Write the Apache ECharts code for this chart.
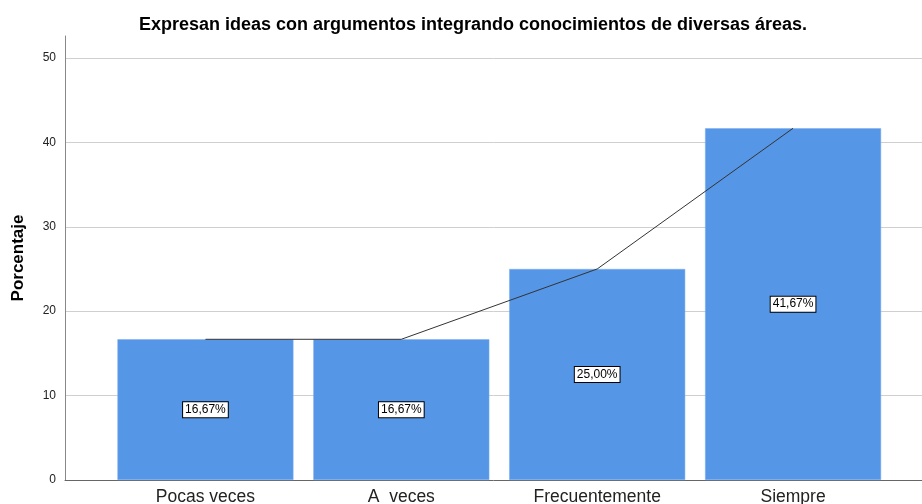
<!DOCTYPE html>
<html><head><meta charset="utf-8">
<script src="https://cdn.jsdelivr.net/npm/echarts@6/dist/echarts.min.js"></script>
<style>html,body{margin:0;padding:0;background:#fff}#c{width:922px;height:504px}</style>
</head><body><div id="c"></div>
<script>
const categories = ['Pocas veces', 'A  veces', 'Frecuentemente', 'Siempre'];
const percentages = [16.67, 16.67, 25.00, 41.67];
const yTicks = [0, 10, 20, 30, 40, 50];
const titleText = 'Expresan ideas con argumentos integrando conocimientos de diversas áreas.';
const yName = 'Porcentaje';

const FONT = '"Liberation Sans", Arial, sans-serif';
const YMAX = 52.6;
const chart = echarts.init(document.getElementById('c'));
chart.setOption({
  animation: false,
  title: { text: titleText, left: 468, textAlign: 'center', top: 11,
    textStyle: { fontFamily: FONT, fontSize: 18, fontWeight: 'bold', color: '#000' } },
  grid: [
    { left: 65, right: 0, top: 36, bottom: 24, outerBoundsMode: 'none', containLabel: false },
    { left: 107.5, right: 31, top: 36, bottom: 24, outerBoundsMode: 'none', containLabel: false }
  ],
  xAxis: [
    { gridIndex: 0, type: 'value', min: 0, max: 1, axisLine: { show: true, onZero: false, lineStyle: { color: '#666', width: 1 } },
      axisTick: { show: false }, axisLabel: { show: false }, splitLine: { show: false } },
    { gridIndex: 1, type: 'category', data: categories, axisLine: { show: false }, axisTick: { show: false },
      axisLabel: { fontFamily: FONT, fontSize: 17.5, color: '#222', margin: 8 } }
  ],
  yAxis: [
    { gridIndex: 0, type: 'value', min: 0, max: YMAX, interval: 10, name: yName, nameLocation: 'middle', nameGap: 38,
      nameTextStyle: { fontFamily: FONT, fontSize: 17, fontWeight: 'bold', color: '#000' },
      axisLine: { show: true, lineStyle: { color: '#888', width: 1 } }, axisTick: { show: false },
      axisLabel: { fontFamily: FONT, fontSize: 12, color: '#222', margin: 9, showMaxLabel: false,
        formatter: v => yTicks.includes(v) ? String(v) : '' },
      splitLine: { show: true, showMinLine: false, showMaxLine: false, lineStyle: { color: '#cfcfcf', width: 1 } } },
    { gridIndex: 1, type: 'value', min: 0, max: YMAX, show: false, splitLine: { show: false } }
  ],
  series: [
    { type: 'bar', xAxisIndex: 1, yAxisIndex: 1, data: percentages, barWidth: 176,
      itemStyle: { color: '#5596e6', borderColor: '#7aaef0', borderWidth: 0.5 },
      label: { show: true, position: 'inside', formatter: p => p.value.toFixed(2).replace('.', ',') + '%',
        fontFamily: FONT, fontSize: 12, color: '#000', backgroundColor: '#fff', borderColor: '#000', borderWidth: 1,
        padding: [2, 2, 1, 2] } },
    { type: 'line', xAxisIndex: 1, yAxisIndex: 1, data: percentages, symbol: 'none',
      lineStyle: { color: '#333', width: 1 }, z: 5 }
  ]
});
</script></body></html>
